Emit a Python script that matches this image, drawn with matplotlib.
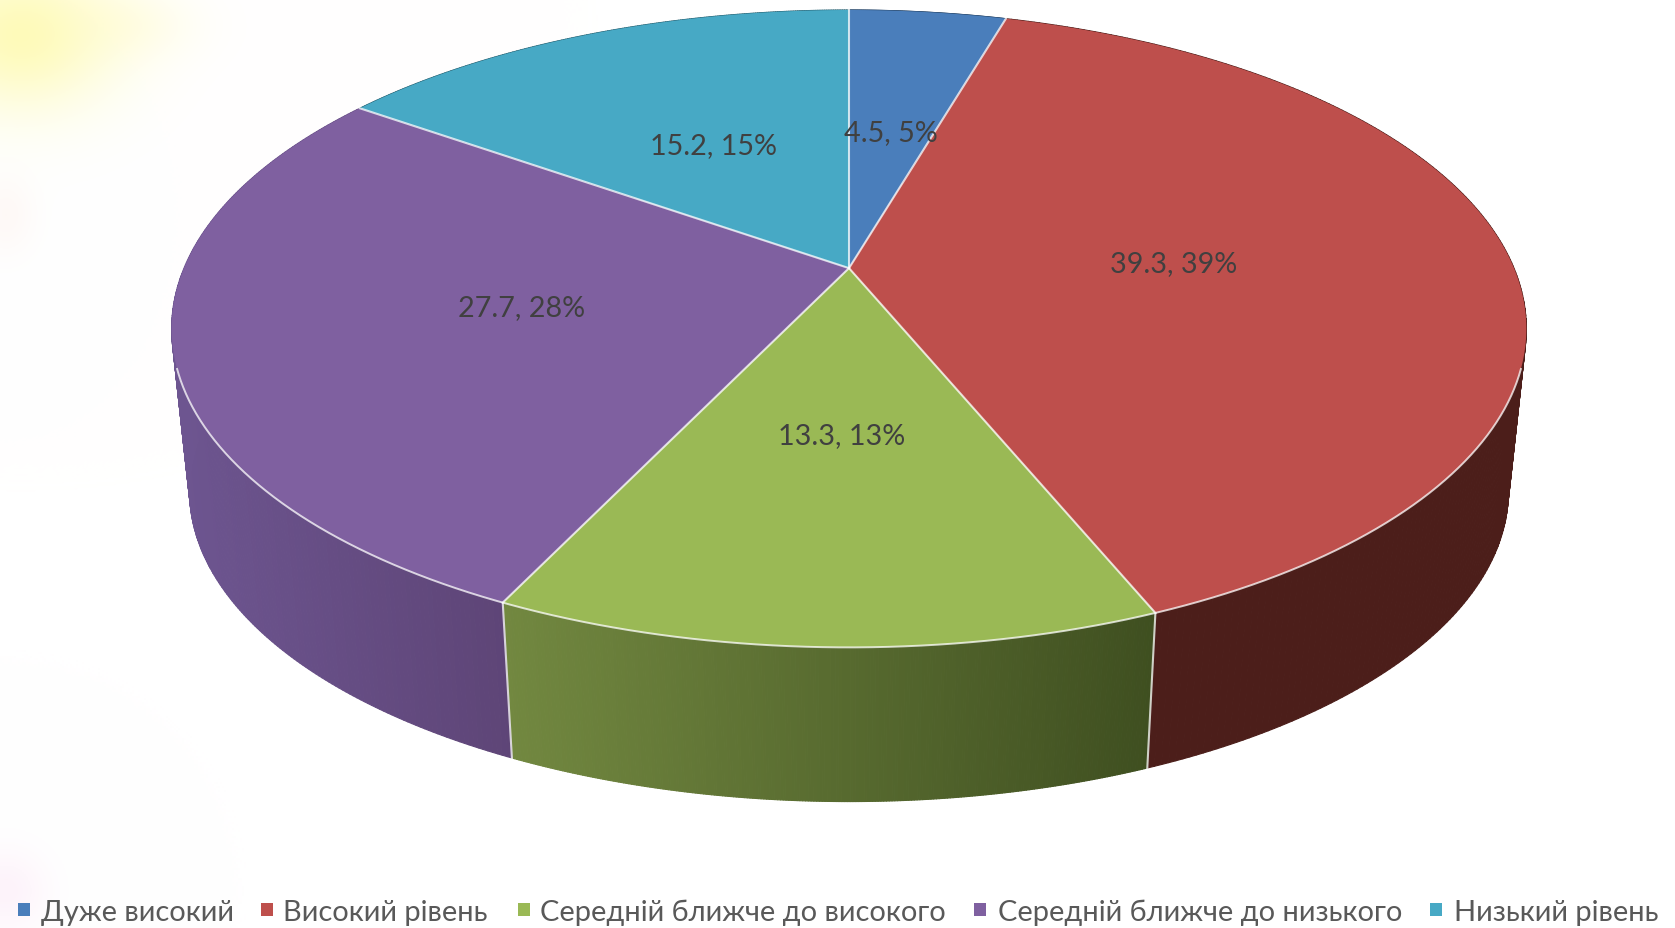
import numpy as np
import matplotlib
matplotlib.use("Agg")
import matplotlib.pyplot as plt
from matplotlib.collections import PolyCollection
from matplotlib.colors import to_rgb

categories = ["Дуже високий", "Високий рівень", "Середній ближче до високого",
              "Середній ближче до низького", "Низький рівень"]
values = [4.5, 39.3, 13.3, 27.7, 15.2]
percents = [5, 39, 13, 28, 15]

top_colors = ["#4a7ebb", "#be4f4c", "#9ab955", "#7f60a0", "#47a9c5"]
wall_left = ["#2c4c70", "#4c1e1a", "#728840", "#6d5590", "#2a6576"]
wall_right = ["#2c4c70", "#4c1e1a", "#3f4f20", "#5e4577", "#2a6576"]
wall_span = [(849, 1005), (1155, 1526), (503, 1155), (171, 503), (360, 849)]

label_xy = [(891, 133), (1174, 264), (842, 436), (522, 308), (713, 146)]
marker_x = [18, 261, 518, 974, 1430]
legend_x = [41, 283, 540, 998, 1454]

FONT = ["Lato", "Open Sans", "DejaVu Sans"]
EDGE = (1, 1, 1, 0.75)

# perspective mapping of the unit circle on to the picture
CX, CY, A, C, W = 849.0, 267.0, -256.3, 0.19, 665.0
K, DY, SHIFT = 0.9735, 172.25, 1.5


def top_rim(theta):
    u, v = np.sin(theta), np.cos(theta)
    d = 1 + C * v
    return CX + W * u / d, (A * v + CY) / d + SHIFT


def bottom_rim(theta):
    x, y = top_rim(theta)
    return CX + K * (x - CX), K * y + DY - 1.0


fig = plt.figure(figsize=(16.75, 9.285), dpi=100, facecolor="white")
ax = fig.add_axes([0, 0, 1, 1])
ax.set_xlim(0, 1675)
ax.set_ylim(928, 0)
ax.axis("off")

# faint background tint
yy, xx = np.mgrid[0:928:2, 0:1675:2]
blobs = [((20, 35), (95, 75), (255, 247, 130), 0.55),
         ((120, 25), (70, 35), (255, 250, 190), 0.3),
         ((5, 215), (30, 40), (250, 225, 215), 0.2),
         ((5, 890), (40, 40), (250, 215, 240), 0.3)]
img = np.ones(xx.shape + (3,))
for (bx, by), (sx, sy), col, amp in blobs:
    a = amp * np.exp(-((xx - bx) / sx) ** 2 - ((yy - by) / sy) ** 2)
    for i in range(3):
        img[..., i] = img[..., i] * (1 - a) + col[i] / 255 * a
ax.imshow(img, extent=(0, 1675, 928, 0), aspect="auto", zorder=0)

edges = np.deg2rad(np.concatenate([[0], np.cumsum(values)]) * 3.6)

# outer wall, as thin strips shaded left to right
for i in range(len(values)):
    th = np.linspace(edges[i], edges[i + 1], 240)
    xt, yt = top_rim(th)
    xb, yb = bottom_rim(th)
    lo, hi = wall_span[i]
    c0, c1 = np.array(to_rgb(wall_left[i])), np.array(to_rgb(wall_right[i]))
    polys, cols = [], []
    for j in range(len(th) - 1):
        polys.append([(xt[j], yt[j]), (xt[j + 1], yt[j + 1]),
                      (xb[j + 1], yb[j + 1]), (xb[j], yb[j])])
        f = np.clip((0.5 * (xt[j] + xt[j + 1]) - lo) / (hi - lo), 0, 1)
        cols.append(c0 + (c1 - c0) * f)
    ax.add_collection(PolyCollection(polys, facecolors=cols, edgecolors=cols,
                                     linewidths=0.8, zorder=2))

# edges between the visible wall pieces
for e in [edges[2], edges[3]]:
    xt, yt = top_rim(e)
    xb, yb = bottom_rim(e)
    ax.plot([xt, xb], [yt, yb], color=EDGE, lw=1.5, zorder=3)

# top face
for i in range(len(values)):
    th = np.linspace(edges[i], edges[i + 1], 300)
    x, y = top_rim(th)
    ax.fill(np.r_[CX, x], np.r_[CY + SHIFT, y], facecolor=top_colors[i],
            edgecolor="none", zorder=4)

# light rim on the front only, spokes between slices
th = np.deg2rad(np.linspace(108, 252, 500))
x, y = top_rim(th)
ax.plot(x, y, color=EDGE, lw=1.4, zorder=5)
for e in edges[:-1]:
    x, y = top_rim(e)
    ax.plot([CX, x], [CY + SHIFT, y], color=EDGE, lw=1.5, zorder=5)

for (lx, ly), v, p in zip(label_xy, values, percents):
    ax.text(lx, ly, f"{v}, {p}%", ha="center", va="center", color="#404040",
            fontsize=20.7, family=FONT, zorder=6)

for mx, tx, name, col in zip(marker_x, legend_x, categories, top_colors):
    ax.fill([mx, mx + 12, mx + 12, mx], [903, 903, 916, 916], facecolor=col,
            edgecolor="none", zorder=6)
    ax.text(tx, 920.5, name, ha="left", va="baseline", color="#595959",
            fontsize=20.9, family=FONT, zorder=6)

fig.savefig("out.png", dpi=100)
